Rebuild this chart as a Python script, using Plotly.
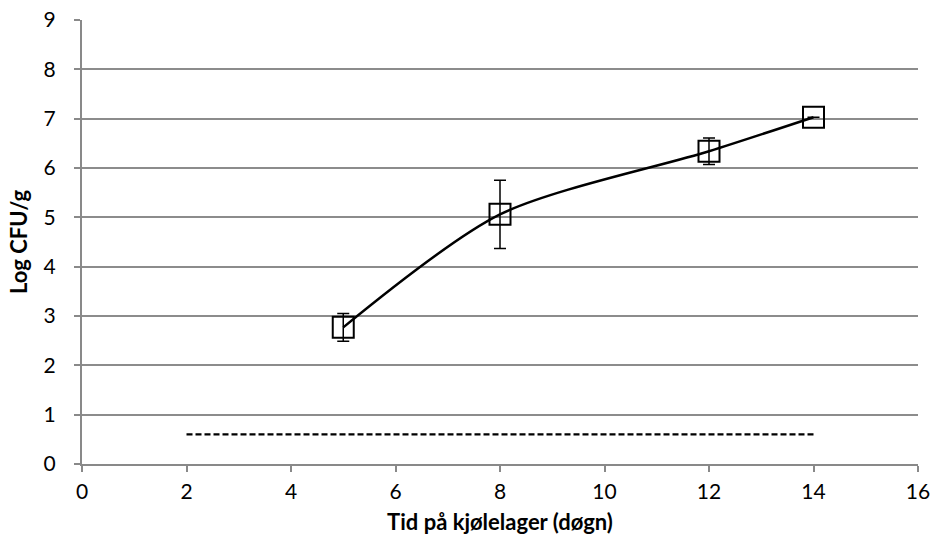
import plotly.graph_objects as go

days = [5, 8, 12, 14]
log_cfu = [2.77, 5.06, 6.34, 7.03]
err = [0.28, 0.69, 0.27, 0.0]
limit_x = [2, 14]
limit_y = [0.6, 0.6]
x_ticks = [0, 2, 4, 6, 8, 10, 12, 14, 16]
y_ticks = [0, 1, 2, 3, 4, 5, 6, 7, 8, 9]

fig = go.Figure()
fig.add_trace(go.Scatter(
    x=limit_x, y=limit_y, mode="lines",
    line=dict(color="black", width=2.2, dash="6px,3px"),
    showlegend=False, hoverinfo="skip"))
fig.add_trace(go.Scatter(
    x=days, y=log_cfu, mode="lines+markers",
    line=dict(color="black", width=2.5, shape="spline", smoothing=0.8),
    marker=dict(symbol="square-open", size=21, color="black", line=dict(width=2)),
    error_y=dict(type="data", array=err, color="black", thickness=1.5, width=6),
    showlegend=False))

FONT = "Lato, Open Sans, sans-serif"
axis_font = dict(family=FONT, size=21, color="black")
title_font = dict(family=FONT, size=22, color="black")
fig.update_layout(
    width=936, height=555,
    margin=dict(l=82, r=18, t=20, b=91, autoexpand=False),
    plot_bgcolor="white", paper_bgcolor="white",
    xaxis=dict(range=[0, 16], tickvals=x_ticks, showgrid=False,
               showline=True, linecolor="#898989", linewidth=2,
               ticks="outside", ticklen=6, tickcolor="#898989", tickwidth=2,
               tickfont=axis_font, zeroline=False, ticklabelstandoff=2,
               automargin=False,
               title=dict(text="<b>Tid på kjølelager (døgn)</b>",
                          font=title_font, standoff=12)),
    yaxis=dict(range=[0, 9], tickvals=y_ticks, showgrid=True,
               gridcolor="#8c8c8c", gridwidth=1.5,
               showline=True, linecolor="#898989", linewidth=2,
               ticks="outside", ticklen=6, tickcolor="#898989", tickwidth=2,
               tickfont=axis_font, zeroline=False, ticklabelstandoff=14,
               automargin=False,
               title=dict(text="<b>Log CFU/g</b>",
                          font=title_font, standoff=10)),
)
fig.write_html("out.html")
